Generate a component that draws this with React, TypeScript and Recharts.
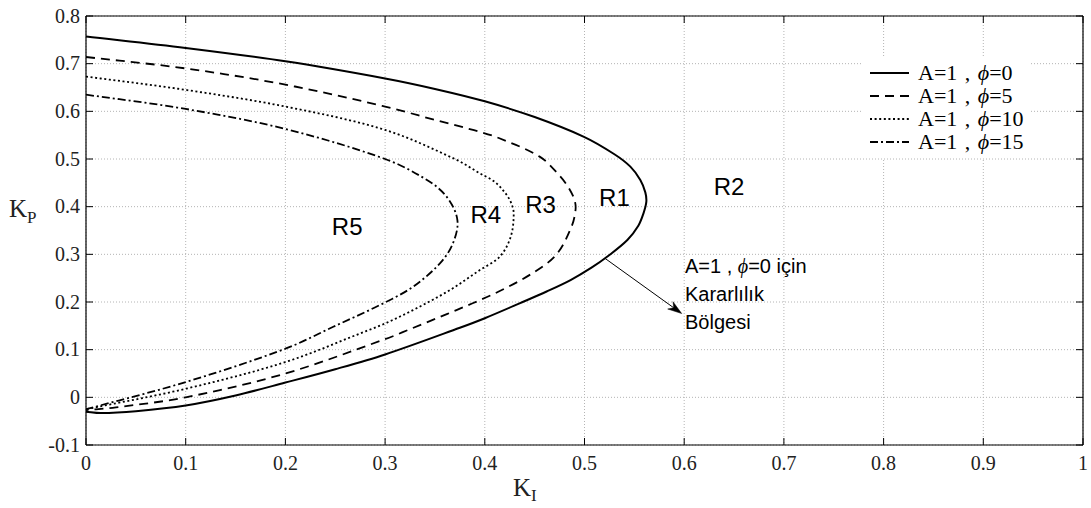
import React from 'react';
import {
  ComposedChart,
  Line,
  XAxis,
  YAxis,
  CartesianGrid,
  Scatter,
  ReferenceLine,
  Legend,
} from 'recharts';

const W = 1091;
const H = 508;

// axis ticks
const xTicks = [0, 0.1, 0.2, 0.3, 0.4, 0.5, 0.6, 0.7, 0.8, 0.9, 1];
const xTickLabels = ['0', '0.1', '0.2', '0.3', '0.4', '0.5', '0.6', '0.7', '0.8', '0.9', '1'];
const yTicks = [-0.1, 0, 0.1, 0.2, 0.3, 0.4, 0.5, 0.6, 0.7, 0.8];
const yTickLabels = ['-0.1', '0', '0.1', '0.2', '0.3', '0.4', '0.5', '0.6', '0.7', '0.8'];

// A=1, phi=0 (solid)
const phi0KI = [0, 0.1, 0.2, 0.3, 0.35, 0.4, 0.45, 0.5, 0.53, 0.546, 0.556, 0.561, 0.562, 0.559, 0.554, 0.543, 0.524, 0.507, 0.486, 0.462, 0.438, 0.4, 0.375, 0.3, 0.25, 0.2, 0.15, 0.1, 0.05, 0.015, 0];
const phi0KP = [0.757, 0.733, 0.705, 0.669, 0.647, 0.621, 0.588, 0.546, 0.51, 0.484, 0.456, 0.43, 0.41, 0.385, 0.36, 0.33, 0.297, 0.272, 0.246, 0.222, 0.2, 0.166, 0.146, 0.09, 0.059, 0.031, 0.004, -0.017, -0.029, -0.033, -0.03];

// A=1, phi=5 (dashed)
const phi5KI = [0, 0.1, 0.2, 0.3, 0.35, 0.395, 0.414, 0.455, 0.475, 0.484, 0.49, 0.491, 0.487, 0.472, 0.449, 0.415, 0.375, 0.325, 0.3, 0.2, 0.1, 0.03, 0];
const phi5KP = [0.714, 0.69, 0.656, 0.61, 0.582, 0.557, 0.544, 0.505, 0.465, 0.44, 0.414, 0.393, 0.358, 0.3, 0.262, 0.223, 0.186, 0.143, 0.122, 0.05, 0.0, -0.021, -0.027];

// A=1, phi=10 (dotted)
const phi10KI = [0, 0.1, 0.2, 0.3, 0.37, 0.395, 0.41, 0.42, 0.426, 0.429, 0.426, 0.415, 0.395, 0.365, 0.328, 0.3, 0.281, 0.2, 0.1, 0];
const phi10KP = [0.673, 0.645, 0.61, 0.561, 0.5, 0.47, 0.452, 0.43, 0.41, 0.386, 0.337, 0.295, 0.267, 0.225, 0.183, 0.155, 0.139, 0.074, 0.018, -0.025];

// A=1, phi=15 (dash-dot)
const phi15KI = [0, 0.1, 0.2, 0.3, 0.342, 0.362, 0.3725, 0.368, 0.355, 0.328, 0.298, 0.248, 0.2, 0.1, 0];
const phi15KP = [0.635, 0.605, 0.563, 0.5, 0.456, 0.42, 0.372, 0.323, 0.281, 0.232, 0.197, 0.148, 0.102, 0.032, -0.025];

const seriesPhi = ['0', '5', '10', '15'];
const seriesDash = ['', '9 6', '2 2.6', '8 3 2 3'];
const seriesWidth = [2, 1.8, 1.8, 1.8];

// region labels
const regionLabels = ['R1', 'R2', 'R3', 'R4', 'R5'];
const regionKI = [0.53, 0.645, 0.456, 0.401, 0.262];
const regionKP = [0.4015, 0.4246, 0.387, 0.365, 0.34];

// note text
const noteLines = ['A=1 , ϕ=0 için', 'Kararlılık', 'Bölgesi'];
const noteKI = 0.6008;
const noteKP = [0.26, 0.2017, 0.1443];

// arrow
const arrowKI = [0.5206, 0.5975];
const arrowKP = [0.2915, 0.1758];

const zip = (a: number[], b: number[]) => a.map((x, i) => ({ x, y: b[i] }));
const curves = [zip(phi0KI, phi0KP), zip(phi5KI, phi5KP), zip(phi10KI, phi10KP), zip(phi15KI, phi15KP)];
const regionData = regionLabels.map((label, i) => ({ x: regionKI[i], y: regionKP[i], label }));
const noteData = noteLines.map((label, i) => ({ x: noteKI, y: noteKP[i], label }));

const SERIF = "'Liberation Serif', 'Times New Roman', serif";
const SANS = "'Liberation Sans', Arial, sans-serif";

// Smooth curve through the points: tangent direction from neighbours, handle length = segment length / 3
const smoothCurve = (context: any) => {
  let pts: number[][] = [];
  const unit = (dx: number, dy: number) => {
    const l = Math.hypot(dx, dy) || 1;
    return [dx / l, dy / l];
  };
  return {
    areaStart() {},
    areaEnd() {},
    lineStart() {
      pts = [];
    },
    point(x: number, y: number) {
      pts.push([+x, +y]);
    },
    lineEnd() {
      const n = pts.length;
      if (!n) return;
      const tan = pts.map((p, i) => {
        const a = pts[Math.max(0, i - 1)];
        const b = pts[Math.min(n - 1, i + 1)];
        return unit(b[0] - a[0], b[1] - a[1]);
      });
      context.moveTo(pts[0][0], pts[0][1]);
      for (let i = 0; i < n - 1; i++) {
        const p1 = pts[i];
        const p2 = pts[i + 1];
        const d = Math.hypot(p2[0] - p1[0], p2[1] - p1[1]) / 3;
        context.bezierCurveTo(
          p1[0] + tan[i][0] * d,
          p1[1] + tan[i][1] * d,
          p2[0] - tan[i + 1][0] * d,
          p2[1] - tan[i + 1][1] * d,
          p2[0],
          p2[1],
        );
      }
    },
  };
};

const nearest = (arr: number[], v: number) => {
  let best = 0;
  arr.forEach((a, i) => {
    if (Math.abs(a - v) < Math.abs(arr[best] - v)) best = i;
  });
  return best;
};

const BottomTick = (p: any) => {
  const { x, y, payload } = p;
  const i = nearest(xTicks, payload.value);
  return (
    <g>
      <line x1={x} y1={y} x2={x} y2={y - 7} stroke="#000" strokeWidth={1} />
      <text x={x} y={y + 25} textAnchor="middle" fontFamily={SERIF} fontSize={20} fill="#222">
        {xTickLabels[i]}
      </text>
    </g>
  );
};

const TopTick = (p: any) => {
  const { x, y } = p;
  return <line x1={x} y1={y} x2={x} y2={y + 7} stroke="#000" strokeWidth={1} />;
};

const LeftTick = (p: any) => {
  const { x, y, payload } = p;
  const i = nearest(yTicks, payload.value);
  return (
    <g>
      <line x1={x} y1={y} x2={x + 7} y2={y} stroke="#000" strokeWidth={1} />
      <text x={x - 6} y={y + 6.5} textAnchor="end" fontFamily={SERIF} fontSize={20} fill="#222">
        {yTickLabels[i]}
      </text>
    </g>
  );
};

const RightTick = (p: any) => {
  const { x, y } = p;
  return <line x1={x} y1={y} x2={x - 7} y2={y} stroke="#000" strokeWidth={1} />;
};

const TextShape = (fontSize: number) => (p: any) => {
  const { cx, cy, payload } = p;
  const label: string = payload.label;
  const anchor = fontSize > 21 ? 'middle' : 'start';
  if (label.includes('ϕ')) {
    const [a, b] = label.split('ϕ');
    return (
      <text x={cx} y={cy} textAnchor={anchor} fontFamily={SANS} fontSize={fontSize} fill="#000">
        {a}
        <tspan fontFamily={SERIF} fontStyle="italic">ϕ</tspan>
        {b}
      </text>
    );
  }
  return (
    <text x={cx} y={cy} textAnchor={anchor} fontFamily={SANS} fontSize={fontSize} fill="#000">
      {label}
    </text>
  );
};

const ArrowShape = (p: any) => {
  const { x1, y1, x2, y2 } = p;
  if ([x1, y1, x2, y2].some((v) => typeof v !== 'number' || isNaN(v))) return null;
  const ang = Math.atan2(y2 - y1, x2 - x1);
  const L = 14;
  const w = 4.5;
  const bx = x2 - L * Math.cos(ang);
  const by = y2 - L * Math.sin(ang);
  const nx = x2 - L * 0.7 * Math.cos(ang);
  const ny = y2 - L * 0.7 * Math.sin(ang);
  const px = -Math.sin(ang) * w;
  const py = Math.cos(ang) * w;
  return (
    <g>
      <line x1={x1} y1={y1} x2={nx} y2={ny} stroke="#000" strokeWidth={1} />
      <polygon
        points={`${x2},${y2} ${bx + px},${by + py} ${nx},${ny} ${bx - px},${by - py}`}
        fill="#000"
        stroke="#000"
        strokeWidth={0.5}
      />
    </g>
  );
};

const LegendBox = () => (
  <div style={{ background: '#fff', padding: '5px 6px', width: 156, boxSizing: 'content-box' }}>
    {seriesPhi.map((ph, i) => (
      <div key={ph} style={{ display: 'flex', alignItems: 'center', height: 23 }}>
        <svg width={44} height={10} style={{ display: 'block' }}>
          <line
            x1={2}
            y1={5}
            x2={41}
            y2={5}
            stroke="#000"
            strokeWidth={seriesWidth[i]}
            strokeDasharray={seriesDash[i] || undefined}
          />
        </svg>
        <span
          style={{
            marginLeft: 6,
            fontFamily: SERIF,
            fontSize: 22,
            wordSpacing: 2,
            whiteSpace: 'pre',
            color: '#000',
            lineHeight: '23px',
          }}
        >
          A=1 , <i>ϕ</i>={ph}
        </span>
      </div>
    ))}
  </div>
);

export default function App() {
  return (
    <div style={{ position: 'absolute', left: 0, top: 0, width: W, height: H, background: '#fff' }}>
      <ComposedChart width={W} height={H} margin={{ top: 0, right: 0, bottom: 0, left: 0 }}>
        <CartesianGrid stroke="#b4b4b4" strokeDasharray="1 2" />
        <XAxis
          xAxisId={0}
          dataKey="x"
          type="number"
          domain={[0, 1]}
          ticks={xTicks}
          allowDataOverflow
          height={63}
          tickSize={0}
          tickMargin={0}
          tick={BottomTick}
          tickLine={false}
          axisLine={{ stroke: '#000', strokeWidth: 1.2 }}
          label={() => (
            <text x={513} y={496} fontFamily={SERIF} fontSize={25} fill="#222">
              K
              <tspan fontSize={17} dy={5}>I</tspan>
            </text>
          )}
        />
        <XAxis
          xAxisId="top"
          orientation="top"
          dataKey="x"
          type="number"
          domain={[0, 1]}
          ticks={xTicks}
          allowDataOverflow
          height={16}
          tickSize={0}
          tickMargin={0}
          tick={TopTick}
          tickLine={false}
          axisLine={{ stroke: '#000', strokeWidth: 1.2 }}
        />
        <YAxis
          yAxisId={0}
          type="number"
          domain={[-0.1, 0.8]}
          ticks={yTicks}
          allowDataOverflow
          width={86}
          tickSize={0}
          tickMargin={0}
          tick={LeftTick}
          tickLine={false}
          axisLine={{ stroke: '#000', strokeWidth: 1.2 }}
          label={() => (
            <text x={9} y={217} fontFamily={SERIF} fontSize={25} fill="#222">
              K
              <tspan fontSize={17} dy={6}>P</tspan>
            </text>
          )}
        />
        <YAxis
          yAxisId="right"
          orientation="right"
          type="number"
          domain={[-0.1, 0.8]}
          ticks={yTicks}
          allowDataOverflow
          width={8}
          tickSize={0}
          tickMargin={0}
          tick={RightTick}
          tickLine={false}
          axisLine={{ stroke: '#000', strokeWidth: 1.2 }}
        />
        {curves.map((data, i) => (
          <Line
            key={i}
            data={data}
            dataKey="y"
            name={`A=1 , ϕ=${seriesPhi[i]}`}
            type={smoothCurve as any}
            stroke="#000"
            strokeWidth={seriesWidth[i]}
            strokeDasharray={seriesDash[i] || undefined}
            dot={false}
            activeDot={false}
            isAnimationActive={false}
          />
        ))}
        <ReferenceLine
          segment={[
            { x: arrowKI[0], y: arrowKP[0] },
            { x: arrowKI[1], y: arrowKP[1] },
          ]}
          stroke="#000"
          shape={ArrowShape}
          ifOverflow="visible"
        />
        <Scatter
          data={regionData}
          dataKey="y"
          shape={TextShape(24)}
          legendType="none"
          isAnimationActive={false}
        />
        <Scatter
          data={noteData}
          dataKey="y"
          shape={TextShape(20)}
          legendType="none"
          isAnimationActive={false}
        />
        <Legend
          layout="vertical"
          align="center"
          verticalAlign="middle"
          content={() => <LegendBox />}
          wrapperStyle={{ position: 'absolute', left: 862, top: 56, bottom: 'auto', width: 168, margin: 0, padding: 0 }}
        />
      </ComposedChart>
    </div>
  );
}
